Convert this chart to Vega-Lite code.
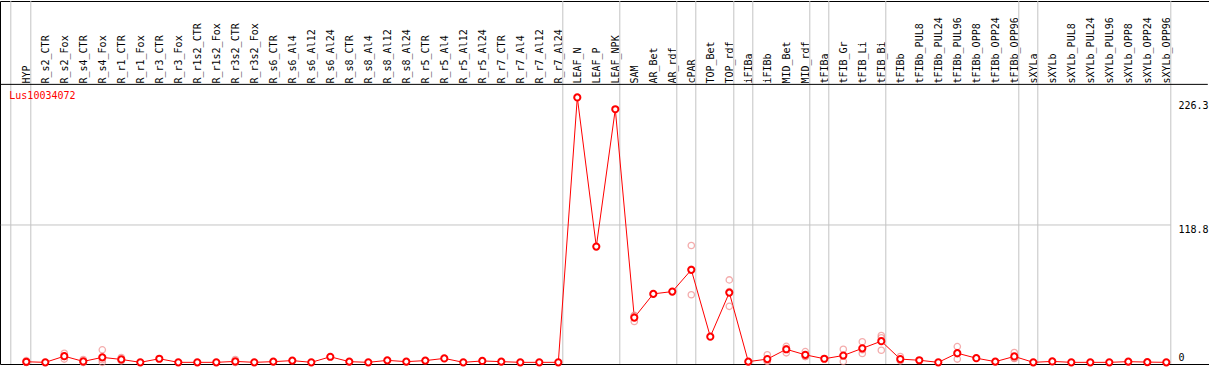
{
  "$schema": "https://vega.github.io/schema/vega-lite/v6.json",
  "width": 1209,
  "height": 370,
  "padding": 0,
  "autosize": {"type": "fit", "contains": "padding"},
  "config": {"view": {"stroke": "black", "strokeWidth": 1}, "background": "white"},
  "datasets": {
    "means": [
      {"cat": "HYP", "mean": 0.5}, {"cat": "R_s2_CTR", "mean": 0}, {"cat": "R_s2_Fox", "mean": 5.3},
      {"cat": "R_s4_CTR", "mean": 0.8}, {"cat": "R_s4_Fox", "mean": 4.3}, {"cat": "R_r1_CTR", "mean": 2.5},
      {"cat": "R_r1_Fox", "mean": 0}, {"cat": "R_r3_CTR", "mean": 3.1}, {"cat": "R_r3_Fox", "mean": 0},
      {"cat": "R_r1s2_CTR", "mean": 0}, {"cat": "R_r1s2_Fox", "mean": 0}, {"cat": "R_r3s2_CTR", "mean": 0.8},
      {"cat": "R_r3s2_Fox", "mean": 0}, {"cat": "R_s6_CTR", "mean": 0.6}, {"cat": "R_s6_Al4", "mean": 1.5},
      {"cat": "R_s6_Al12", "mean": 0}, {"cat": "R_s6_Al24", "mean": 4.8}, {"cat": "R_s8_CTR", "mean": 0.6},
      {"cat": "R_s8_Al4", "mean": 0}, {"cat": "R_s8_Al12", "mean": 1.7}, {"cat": "R_s8_Al24", "mean": 0.6},
      {"cat": "R_r5_CTR", "mean": 1.5}, {"cat": "R_r5_Al4", "mean": 3.4}, {"cat": "R_r5_Al12", "mean": 0},
      {"cat": "R_r5_Al24", "mean": 1.2}, {"cat": "R_r7_CTR", "mean": 0.6}, {"cat": "R_r7_Al4", "mean": 0},
      {"cat": "R_r7_Al12", "mean": 0}, {"cat": "R_r7_Al24", "mean": 0}, {"cat": "LEAF_N", "mean": 229.1},
      {"cat": "LEAF_P", "mean": 100.1}, {"cat": "LEAF_NPK", "mean": 218.9}, {"cat": "SAM", "mean": 38.7},
      {"cat": "AR_Bet", "mean": 59.2}, {"cat": "AR_rdf", "mean": 61.2}, {"cat": "cPAR", "mean": 80.0},
      {"cat": "TOP_Bet", "mean": 22.2}, {"cat": "TOP_rdf", "mean": 60.3}, {"cat": "iFIBa", "mean": 0.6},
      {"cat": "iFIBb", "mean": 2.8}, {"cat": "MID_Bet", "mean": 11.3}, {"cat": "MID_rdf", "mean": 6.5},
      {"cat": "tFIBa", "mean": 3.1}, {"cat": "tFIB_Gr", "mean": 5.9}, {"cat": "tFIB_Li", "mean": 12.1},
      {"cat": "tFIB_Bi", "mean": 18.3}, {"cat": "tFIBb", "mean": 2.8}, {"cat": "tFIBb_PUL8", "mean": 1.8},
      {"cat": "tFIBb_PUL24", "mean": 0}, {"cat": "tFIBb_PUL96", "mean": 7.9}, {"cat": "tFIBb_OPP8", "mean": 3.6},
      {"cat": "tFIBb_OPP24", "mean": 0.6}, {"cat": "tFIBb_OPP96", "mean": 5.1}, {"cat": "sXYLa", "mean": 0},
      {"cat": "sXYLb", "mean": 0.8}, {"cat": "sXYLb_PUL8", "mean": 0}, {"cat": "sXYLb_PUL24", "mean": 0},
      {"cat": "sXYLb_PUL96", "mean": 0}, {"cat": "sXYLb_OPP8", "mean": 0.6}, {"cat": "sXYLb_OPP24", "mean": 0.2},
      {"cat": "sXYLb_OPP96", "mean": 0}
    ],
    "reps": [
      {"cat": "HYP", "value": 1.5}, {"cat": "HYP", "value": 0}, {"cat": "HYP", "value": 0},
      {"cat": "R_s2_Fox", "value": 7.9}, {"cat": "R_s2_Fox", "value": 2.8}, {"cat": "R_s2_Fox", "value": 5.2},
      {"cat": "R_s4_CTR", "value": 2.5}, {"cat": "R_s4_CTR", "value": 0}, {"cat": "R_s4_CTR", "value": 0},
      {"cat": "R_s4_Fox", "value": 10.8}, {"cat": "R_s4_Fox", "value": 0}, {"cat": "R_s4_Fox", "value": 2.2},
      {"cat": "R_r1_CTR", "value": 4.2}, {"cat": "R_r1_CTR", "value": 2.0}, {"cat": "R_r1_CTR", "value": 1.3},
      {"cat": "R_r3s2_CTR", "value": 2.4}, {"cat": "R_r3s2_CTR", "value": 0}, {"cat": "R_r3s2_CTR", "value": 0},
      {"cat": "SAM", "value": 35.3}, {"cat": "SAM", "value": 40.2}, {"cat": "SAM", "value": 40.6},
      {"cat": "cPAR", "value": 101.0}, {"cat": "cPAR", "value": 58.5}, {"cat": "cPAR", "value": 80.5},
      {"cat": "TOP_rdf", "value": 71.3}, {"cat": "TOP_rdf", "value": 48.4}, {"cat": "TOP_rdf", "value": 61.2},
      {"cat": "iFIBb", "value": 6.5}, {"cat": "iFIBb", "value": 1.0}, {"cat": "iFIBb", "value": 0.9},
      {"cat": "MID_Bet", "value": 13.8}, {"cat": "MID_Bet", "value": 8.2}, {"cat": "MID_Bet", "value": 11.9},
      {"cat": "MID_rdf", "value": 9.3}, {"cat": "MID_rdf", "value": 5.1}, {"cat": "MID_rdf", "value": 5.1},
      {"cat": "tFIB_Gr", "value": 11.3}, {"cat": "tFIB_Gr", "value": 0.8}, {"cat": "tFIB_Gr", "value": 5.6},
      {"cat": "tFIB_Li", "value": 17.8}, {"cat": "tFIB_Li", "value": 7.6}, {"cat": "tFIB_Li", "value": 10.9},
      {"cat": "tFIB_Bi", "value": 23.2}, {"cat": "tFIB_Bi", "value": 21.3}, {"cat": "tFIB_Bi", "value": 10.4},
      {"cat": "tFIBb", "value": 5.1}, {"cat": "tFIBb", "value": 2.0}, {"cat": "tFIBb", "value": 1.3},
      {"cat": "tFIBb_PUL96", "value": 13.6}, {"cat": "tFIBb_PUL96", "value": 2.8}, {"cat": "tFIBb_PUL96", "value": 7.3},
      {"cat": "tFIBb_OPP96", "value": 8.5}, {"cat": "tFIBb_OPP96", "value": 3.5}, {"cat": "tFIBb_OPP96", "value": 3.3}
    ],
    "separators": [
      {"after": "HYP"}, {"after": "R_r7_Al24"}, {"after": "LEAF_NPK"}, {"after": "AR_rdf"},
      {"after": "cPAR"}, {"after": "TOP_rdf"}, {"after": "iFIBa"}, {"after": "MID_rdf"},
      {"after": "tFIBa"}, {"after": "tFIB_Bi"}, {"after": "tFIBb_OPP96"}, {"after": "sXYLa"},
      {"after": "sXYLb_OPP96"}
    ],
    "title": [{"gene": "Lus10034072"}]
  },
  "layer": [
    {
      "data": {"name": "separators"},
      "mark": {"type": "rule", "color": "#c4c4c4", "strokeWidth": 1, "xOffset": 4.5},
      "encoding": {"x": {"field": "after", "type": "nominal"}}
    },
    {
      "data": {"values": [{}]},
      "mark": {"type": "rule", "color": "#c4c4c4", "strokeWidth": 1, "xOffset": -15.5},
      "encoding": {"x": {"datum": "HYP"}}
    },
    {
      "data": {"values": [{}]},
      "mark": {"type": "rule", "color": "#c4c4c4", "strokeWidth": 1, "xOffset": -25.5, "x2Offset": 4.5},
      "encoding": {"x": {"datum": "HYP"}, "x2": {"datum": "sXYLb_OPP96"}, "y": {"datum": 118.8}}
    },
    {
      "data": {"values": [{}]},
      "mark": {"type": "rule", "color": "black", "strokeWidth": 1, "xOffset": -25.5, "x2Offset": 41.5},
      "encoding": {"x": {"datum": "HYP"}, "x2": {"datum": "sXYLb_OPP96"}, "y": {"datum": 240.4}}
    },
    {
      "data": {"name": "means"},
      "mark": {"type": "line", "color": "#ff0000", "strokeWidth": 1},
      "encoding": {
        "x": {
          "field": "cat",
          "type": "nominal",
          "scale": {
            "type": "point",
            "padding": 0,
            "range": [26.3, 1166.3],
            "domain": ["HYP","R_s2_CTR","R_s2_Fox","R_s4_CTR","R_s4_Fox","R_r1_CTR","R_r1_Fox","R_r3_CTR","R_r3_Fox","R_r1s2_CTR","R_r1s2_Fox","R_r3s2_CTR","R_r3s2_Fox","R_s6_CTR","R_s6_Al4","R_s6_Al12","R_s6_Al24","R_s8_CTR","R_s8_Al4","R_s8_Al12","R_s8_Al24","R_r5_CTR","R_r5_Al4","R_r5_Al12","R_r5_Al24","R_r7_CTR","R_r7_Al4","R_r7_Al12","R_r7_Al24","LEAF_N","LEAF_P","LEAF_NPK","SAM","AR_Bet","AR_rdf","cPAR","TOP_Bet","TOP_rdf","iFIBa","iFIBb","MID_Bet","MID_rdf","tFIBa","tFIB_Gr","tFIB_Li","tFIB_Bi","tFIBb","tFIBb_PUL8","tFIBb_PUL24","tFIBb_PUL96","tFIBb_OPP8","tFIBb_OPP24","tFIBb_OPP96","sXYLa","sXYLb","sXYLb_PUL8","sXYLb_PUL24","sXYLb_PUL96","sXYLb_OPP8","sXYLb_OPP24","sXYLb_OPP96"]
          },
          "axis": {
            "orient": "top",
            "offset": -85,
            "title": null,
            "domain": false,
            "ticks": false,
            "grid": false,
            "labelAngle": -90,
            "labelAlign": "left",
            "labelBaseline": "middle",
            "labelPadding": 3,
            "labelFont": "DejaVu Sans Mono",
            "labelFontSize": 10,
            "labelColor": "black",
            "labelOverlap": false,
            "labelBound": false,
            "labelFlush": false
          }
        },
        "y": {
          "field": "mean",
          "type": "quantitative",
          "scale": {"domain": [-1.44, 312.5], "nice": false, "zero": false},
          "axis": {
            "orient": "right",
            "offset": -31,
            "title": null,
            "domain": false,
            "ticks": false,
            "grid": false,
            "values": [0, 118.8, 226.3],
            "labelExpr": "datum.value == 0 ? '0' : format(datum.value, '.1f')",
            "labelAlign": "left",
            "labelBaseline": {"condition": {"test": "datum.value == 0", "value": "bottom"}, "value": "top"},
            "labelPadding": 0,
            "labelFont": "DejaVu Sans Mono",
            "labelFontSize": 10,
            "labelColor": "black",
            "labelFlush": false,
            "labelOverlap": false
          }
        }
      }
    },
    {
      "data": {"name": "reps"},
      "mark": {"type": "point", "shape": "circle", "filled": false, "size": 40, "stroke": "#f08a8a", "strokeWidth": 1.3},
      "encoding": {"x": {"field": "cat", "type": "nominal"}, "y": {"field": "value", "type": "quantitative"}}
    },
    {
      "data": {"name": "means"},
      "mark": {"type": "point", "shape": "circle", "filled": true, "fill": "white", "fillOpacity": 1, "size": 38, "stroke": "#ff0000", "strokeWidth": 2, "opacity": 1},
      "encoding": {"x": {"field": "cat", "type": "nominal"}, "y": {"field": "mean", "type": "quantitative"}}
    },
    {
      "data": {"name": "title"},
      "mark": {"type": "text", "color": "#ff0000", "font": "DejaVu Sans Mono", "fontSize": 10, "align": "left", "baseline": "middle", "xOffset": -17},
      "encoding": {"x": {"datum": "HYP"}, "y": {"datum": 230.2}, "text": {"field": "gene", "type": "nominal"}}
    }
  ]
}
